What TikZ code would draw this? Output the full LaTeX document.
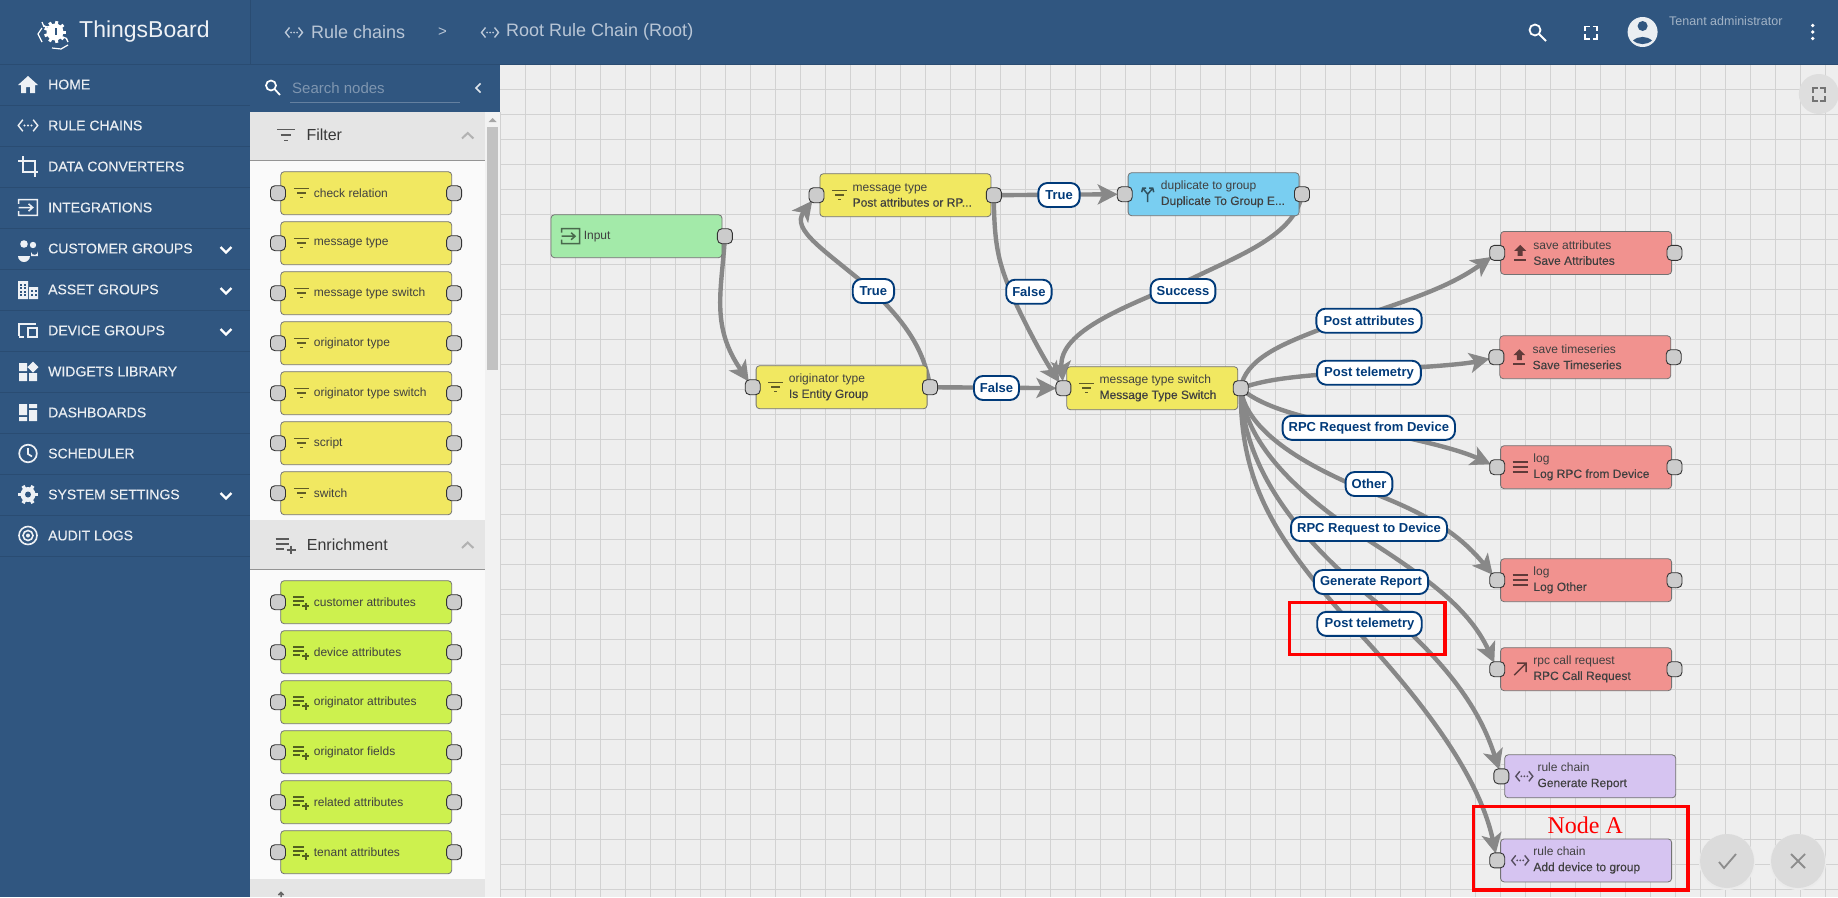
\documentclass[tikz,border=0pt]{standalone}
\usepackage{fontspec}
\setmainfont{Liberation Sans}
\newfontfamily\medf[FakeBold=0.25]{Liberation Sans}
\newfontfamily\redserif{Liberation Serif}
\usetikzlibrary{arrows.meta}
\pgfdeclarelayer{bglayer}
\pgfdeclarelayer{edgelayer}
\pgfsetlayers{bglayer,edgelayer,main}
\definecolor{tbblue}{HTML}{305680}
\definecolor{tbdark}{HTML}{2A4C72}
\definecolor{tbtext}{HTML}{B9C6D6}
\definecolor{canvasbg}{HTML}{EEEEEE}
\definecolor{gridc}{HTML}{D2D2D2}
\definecolor{cfilter}{HTML}{F1E861}
\definecolor{cenrich}{HTML}{CDF14E}
\definecolor{caction}{HTML}{F1928F}
\definecolor{cinput}{HTML}{A3EAA9}
\definecolor{cflow}{HTML}{D6C4F1}
\definecolor{ctrans}{HTML}{79CEF1}
\definecolor{edgec}{HTML}{888888}
\definecolor{labc}{HTML}{003A79}
\tikzset{
  x=1pt,y=-1pt,
  flowbox/.style={draw=black!55,line width=.8pt,rounded corners=3.5pt,minimum width=171pt,minimum height=43pt,inner sep=0pt,anchor=north west},
  port/.style={draw=black!80,line width=.9pt,fill=black!20,rounded corners=4.5pt,minimum width=15pt,minimum height=15pt,inner sep=0pt},
  flowtext/.style={anchor=west,align=left,inner sep=0pt,text=black!75,font=\fontsize{12}{15.3}\selectfont},
  paltext/.style={anchor=west,inner sep=0pt,text=black!75,font=\fontsize{12}{15}\selectfont},
  pill/.style={draw=labc,line width=1.9pt,fill=white,rounded corners=9pt,minimum height=24pt,inner sep=0pt,text=labc,font=\fontsize{13}{15}\selectfont\bfseries},
  edge/.style={draw=edgec,line width=4.4pt,-{Stealth[length=20pt,width=20pt,inset=5pt]},shorten >=7pt},
  menutext/.style={anchor=west,inner sep=0pt,text=white!90!tbblue,font=\fontsize{14}{16}\medf},
  headtext/.style={anchor=west,inner sep=0pt,text=tbtext,font=\fontsize{18}{20}\selectfont},
  sechead/.style={anchor=west,inner sep=0pt,text=black!78,font=\fontsize{16}{18}\selectfont},
  redbox/.style={draw=red,line width=3.6pt,fill=none},
  ico/.style={line width=1.5pt,line cap=butt},
}
% small icons, drawn about the origin of the current scope
\newcommand\icfilter{\draw[ico,black,opacity=.6] (-7.5,-4.5)--(7.5,-4.5) (-4.5,0)--(4.5,0) (-1.5,4.5)--(1.5,4.5);}
\newcommand\icplus{\draw[ico,black,opacity=.6] (-8,-5)--(3,-5) (-8,-1)--(3,-1) (-8,3)--(-1,3) (1,4)--(8,4) (4.5,.5)--(4.5,7.5);}
\newcommand\iclog{\draw[ico,black,opacity=.6] (-7.5,-5)--(7.5,-5) (-7.5,0)--(7.5,0) (-7.5,5)--(7.5,5);}
\newcommand\icup{\fill[black,opacity=.6] (-2.5,3)--(-2.5,-2)--(-6,-2)--(0,-8)--(6,-2)--(2.5,-2)--(2.5,3)--cycle;\draw[ico,black,opacity=.6] (-6,7)--(6,7);}
\newcommand\iccall{\draw[ico,black,opacity=.6] (-6,6)--(6,-6) (-3,-6)--(6,-6)--(6,3);}
\newcommand\icchain[1]{\draw[#1,line width=1.4pt] (-4.5,-5)--(-8.5,0)--(-4.5,5) (4.5,-5)--(8.5,0)--(4.5,5);\fill[#1] (-3,0) circle (1) (0,0) circle (1) (3,0) circle (1);}
\newcommand\iccross{\draw[ico,black,opacity=.6] (0,8)--(0,0)--(-5,-6) (0,0)--(5,-6) (-6,-2)--(-5,-6)--(-1.5,-6) (1.5,-6)--(5,-6)--(6,-2);}
\newcommand\icinput[1]{\draw[#1,line width=1.5pt] (-9,-3.5)--(-9,-7.5)--(9,-7.5)--(9,7.5)--(-9,7.5)--(-9,3.5) (-9,0)--(4,0) (.5,-3.5)--(4.5,0)--(.5,3.5);}
% a node of the chain: name, x, y, fill, icon, first line, second line
\newcommand\flownode[7]{%
  \node[flowbox,fill=#4] (#1) at (#2,#3) {};
  \node[port] (#1-l) at ([xshift=-3pt]#1.west) {};
  \begin{scope}[shift={([xshift=20pt]#1.west)}]#5\end{scope}
  \node[flowtext] (#1-t) at ([xshift=33pt]#1.west) {#6\\{\medf #7}};
}
\newcommand\rport[1]{\node[port] (#1-r) at ([xshift=2.5pt]#1.east) {};}
% a node of the palette: name, y, fill, icon, text
\newcommand\palnode[5]{%
  \node[flowbox,fill=#3] (#1) at (280.3,#2) {};
  \node[port] (#1-l) at ([xshift=-2.3pt]#1.west) {};
  \node[port] (#1-r) at ([xshift=2pt]#1.east) {};
  \begin{scope}[shift={([xshift=21pt]#1.west)}]#4\end{scope}
  \node[paltext] (#1-t) at ([xshift=33.4pt]#1.west) {#5};
}
\begin{document}
\begin{tikzpicture}
\useasboundingbox (0,0) rectangle (1838,897);
\begin{pgfonlayer}{bglayer}
  \fill[canvasbg] (0,0) rectangle (1838,897);
  \foreach \gx in {0,...,53} {\draw[gridc,line width=1pt] ({525.6+25*\gx},64)--({525.6+25*\gx},897);}
  \foreach \gy in {1,...,33} {\draw[gridc,line width=1pt] (500,{64.3+25*\gy})--(1838,{64.3+25*\gy});}
  % top bar, side bar, palette
  \fill[tbblue] (0,0) rectangle (1838,64);
  \fill[tbblue] (0,64) rectangle (250,897);
  \fill[tbblue] (250,64) rectangle (500,112);
  \fill[black!2] (250,112) rectangle (485,897);
  \fill[black!5] (485,112) rectangle (500,897);
  \fill[black!24] (487,127) rectangle (498,370);
  \fill[black!35] (488.5,122)--(496.5,122)--(492.5,118)--cycle;
  \draw[black!18,line width=1pt] (500.5,112)--(500.5,897);
  \draw[tbdark,line width=1pt] (0,64.5)--(1838,64.5) (250,0)--(250,64);
  \foreach \ly in {105,146,187,228,269,310,351,392,433,474,515,556} {\draw[tbdark,line width=1pt] (0,\ly)--(250,\ly);}
  \fill[black!10] (250,112) rectangle (485,160);
  \draw[black!42,line width=1pt] (250,160)--(485,160);
  \fill[black!10] (250,520) rectangle (485,569);
  \draw[black!42,line width=1pt] (250,569)--(485,569);
  \fill[black!10] (250,879) rectangle (485,897);
\end{pgfonlayer}

% top bar
\begin{scope}[shift={(55,32)}]
  \fill[white] (0,0) circle (8.5);
  \foreach \a in {0,40,...,320} {\draw[white,line width=3pt] (\a:6)--(\a:11);}
  \draw[white,line width=1.2pt] (-11,-5)--(-13,-10) arc (180:60:5) (11,6)--(13,10) arc (0:-120:5);
  \draw[white,line width=1.2pt] (-3,16)--(6,17)--(13,13) (-13,-4)--(-17,2)--(-13,10);
  \fill[tbblue] (-.5,-4) rectangle (2,3);
\end{scope}
\node[anchor=west,inner sep=0pt,text=white!92!tbblue,font=\fontsize{23}{25}\selectfont] (tblogo) at (79,31.5) {ThingsBoard};
\begin{scope}[shift={(294,32.5)}]\icchain{tbtext}\end{scope}
\node[headtext] (hchains) at (311,32) {Rule chains};
\node[headtext,font=\fontsize{15}{17}\selectfont] (hsep) at (438,32) {>};
\begin{scope}[shift={(490,32.5)}]\icchain{tbtext}\end{scope}
\node[headtext] (hroot) at (506,32) {Root Rule Chain (Root)};
\draw[white,line width=1.8pt] (1535,30) circle (5.5) (1539,34)--(1546,41);
\draw[white,line width=1.8pt] (1585,31)--(1585,26.5)--(1590,26.5) (1592.5,26.5)--(1597,26.5)--(1597,31) (1597,34)--(1597,39)--(1592.5,39) (1590,39)--(1585,39)--(1585,34);
\fill[white!90!tbblue] (1642.6,32) circle (15);
\fill[tbblue] (1642.6,26) circle (5) (1633,40.5) to[bend left=40] (1652,40.5) to[bend left=40] cycle;
\node[anchor=west,inner sep=0pt,text=white!55!tbblue,font=\fontsize{12.5}{14}\selectfont] (htenant) at (1669,21.5) {Tenant administrator};
\fill[white] (1812.7,25.5) circle (1.9) (1812.7,32) circle (1.9) (1812.7,38.5) circle (1.9);

% side menu
\foreach \ty/\tn/\tt in {84.5/mhome/HOME,125.5/mrule/RULE CHAINS,166.5/mconv/DATA CONVERTERS,207.5/mint/INTEGRATIONS,248.5/mcust/CUSTOMER GROUPS,289.5/masset/ASSET GROUPS,330.5/mdev/DEVICE GROUPS,371.5/mwid/WIDGETS LIBRARY,412.5/mdash/DASHBOARDS,453.5/msch/SCHEDULER,494.5/mset/SYSTEM SETTINGS,535.5/maud/AUDIT LOGS}
  {\node[menutext] (\tn) at (48,\ty) {\tt};}
\foreach \cy in {249.5,290.5,331.5,495.5} {\draw[white,line width=2.2pt] (220.5,\cy-2.5)--(226,\cy+3)--(231.5,\cy-2.5);}
\fill[white!92!tbblue] (28,76)--(38,85)--(35,85)--(35,93)--(30,93)--(30,87)--(26,87)--(26,93)--(21,93)--(21,85)--(18,85)--cycle;
\begin{scope}[shift={(28,125.5)},scale=1.15]\icchain{white!92!tbblue}\end{scope}
\draw[white!92!tbblue,line width=1.6pt] (18,161)--(35,161)--(35,177) (23,156)--(23,172)--(38,172);
\begin{scope}[shift={(28,207.5)},scale=1.05]\icinput{white!92!tbblue}\end{scope}
\fill[white!92!tbblue] (24,244) circle (3.8) (33,245) circle (3.2) (18,256) arc (180:0:6) -- cycle (31,256) -- (31,252) arc (170:0:3.5) -- (38,256) -- cycle;
\fill[white!92!tbblue] (18,281) rectangle (28,299) (29,287) rectangle (38,299);
\foreach \dx in {20,23.5} \foreach \dy in {283.5,287,290.5,294} {\fill[tbblue] (\dx,\dy) rectangle +(2,2);}
\foreach \dx in {31,34.5} \foreach \dy in {290,294} {\fill[tbblue] (\dx,\dy) rectangle +(2,2);}
\draw[white!92!tbblue,line width=1.6pt] (19,336)--(19,324)--(36,324) (24,337)--(19,337) (28,328) rectangle (37,337);
\fill[white!92!tbblue] (19,363) rectangle (27,371) (19,373) rectangle (27,381) (29,373) rectangle (37,381) (33,361.5)--(38.5,367)--(33,372.5)--(27.5,367)--cycle;
\fill[white!92!tbblue] (19,404) rectangle (27,415) (19,417) rectangle (27,421) (29,404) rectangle (37,408) (29,410) rectangle (37,421);
\draw[white!92!tbblue,line width=1.7pt] (28,453.5) circle (8.8) (28,448)--(28,454)--(32,456.5);
\fill[white!92!tbblue] (28,494.5) circle (7.5);
\foreach \a in {0,60,...,300} {\draw[white!92!tbblue,line width=3.4pt] (28,494.5) ++(\a:6)--++(\a:4);}
\fill[tbblue] (28,494.5) circle (3);
\draw[white!92!tbblue,line width=1.6pt] (28,535.5) circle (9) (28,535.5) circle (5);
\fill[white!92!tbblue] (28,535.5) circle (2);

% palette head
\draw[white,line width=1.7pt] (271,85.5) circle (5) (275,89.5)--(280,95);
\node[anchor=west,inner sep=0pt,text=white!38!tbblue,font=\fontsize{15}{17}\selectfont] (psearch) at (292,88) {Search nodes};
\draw[white!25!tbblue,line width=1pt] (290,102.5)--(460,102.5);
\draw[white!85!tbblue,line width=1.6pt] (480.5,83.5)--(476,88)--(480.5,92.5);
\begin{scope}[shift={(286,135)},scale=1.2]\icfilter\end{scope}
\node[sechead] (sfilter) at (306.3,135) {Filter};
\draw[black!30,line width=2pt] (462,138.5)--(467.7,133)--(473.4,138.5);
\begin{scope}[shift={(285.5,545)},scale=1.25]\icplus\end{scope}
\node[sechead] (senrich) at (306.7,544.5) {Enrichment};
\draw[black!30,line width=2pt] (462,548)--(467.7,542.5)--(473.4,548);
\draw[black!60,line width=1.5pt] (281,897)--(281,893) (278.5,895)--(281,892.5)--(283.5,895);

\palnode{pa}{171.3}{cfilter}{\icfilter}{check relation}
\palnode{pb}{221.3}{cfilter}{\icfilter}{message type}
\palnode{pc}{271.3}{cfilter}{\icfilter}{message type switch}
\palnode{pd}{321.3}{cfilter}{\icfilter}{originator type}
\palnode{pe}{371.3}{cfilter}{\icfilter}{originator type switch}
\palnode{pf}{421.3}{cfilter}{\icfilter}{script}
\palnode{pg}{471.3}{cfilter}{\icfilter}{switch}
\palnode{qa}{580.3}{cenrich}{\icplus}{customer attributes}
\palnode{qb}{630.3}{cenrich}{\icplus}{device attributes}
\palnode{qc}{680.3}{cenrich}{\icplus}{originator attributes}
\palnode{qd}{730.3}{cenrich}{\icplus}{originator fields}
\palnode{qe}{780.3}{cenrich}{\icplus}{related attributes}
\palnode{qf}{830.3}{cenrich}{\icplus}{tenant attributes}

% chain nodes
\node[flowbox,fill=cinput] (nin) at (550.6,214.3) {};
\node[port] (nin-r) at ([xshift=2.5pt]nin.east) {};
\begin{scope}[shift={([xshift=20pt]nin.west)}]\icinput{black!55!cinput}\end{scope}
\node[flowtext] (nin-t) at ([xshift=33pt]nin.west) {Input};
\flownode{nmt}{819.5}{173.3}{cfilter}{\icfilter}{message type}{Post attributes or RP...}\rport{nmt}
\flownode{ndup}{1127.7}{172.3}{ctrans}{\iccross}{duplicate to group}{Duplicate To Group E...}\rport{ndup}
\flownode{nor}{755.7}{365.3}{cfilter}{\icfilter}{originator type}{Is Entity Group}\rport{nor}
\flownode{nsw}{1066.4}{366.3}{cfilter}{\icfilter}{message type switch}{Message Type Switch}\rport{nsw}
\flownode{nsa}{1500.2}{231}{caction}{\icup}{save attributes}{Save Attributes}\rport{nsa}
\flownode{nst}{1499.4}{335.3}{caction}{\icup}{save timeseries}{Save Timeseries}\rport{nst}
\flownode{nlr}{1500.2}{445.3}{caction}{\iclog}{log}{Log RPC from Device}\rport{nlr}
\flownode{nlo}{1500.2}{558.3}{caction}{\iclog}{log}{Log Other}\rport{nlo}
\flownode{nrc}{1500.2}{647.3}{caction}{\iccall}{rpc call request}{RPC Call Request}\rport{nrc}
\flownode{ngr}{1504.3}{754.4}{cflow}{\icchain{black!60!cflow}}{rule chain}{Generate Report}
\flownode{nad}{1500.2}{838.5}{cflow}{\icchain{black!60!cflow}}{rule chain}{Add device to group}

% connectors
\begin{pgfonlayer}{edgelayer}
\draw[edge] (nin-r.center) .. controls (722,290) and (710,325) .. (nor-l.center);
\draw[edge] (nor-r.center) .. controls (924,345) and (900,318) .. (873,291) .. controls (825,250) and (790,230) .. (nmt-l.center);
\draw[edge] (nmt-r.center) -- (ndup-l.center);
\draw[edge] (nmt-r.center) .. controls (994,250) and (1000,265) .. (1012,295) .. controls (1030,335) and (1048,365) .. (nsw-l.center);
\draw[edge] (nor-r.center) -- (nsw-l.center);
\draw[edge] (ndup-r.center) .. controls (1295,235) and (1240,255) .. (1193,278) .. controls (1130,305) and (1058,330) .. (nsw-l.center);
\draw[edge] (nsw-r.center) .. controls (1245,360) and (1280,345) .. (1316,331) .. controls (1400,303) and (1445,290) .. (nsa-l.center);
\draw[edge] (nsw-r.center) .. controls (1270,378) and (1300,376) .. (1369,371) .. controls (1420,367) and (1460,365) .. (nst-l.center);
\draw[edge] (nsw-r.center) .. controls (1262,408) and (1310,420) .. (1369,430) .. controls (1420,440) and (1460,450) .. (nlr-l.center);
\draw[edge] (nsw-r.center) .. controls (1245,425) and (1290,460) .. (1370,492) .. controls (1430,515) and (1460,535) .. (nlo-l.center);
\draw[edge] (nsw-r.center) .. controls (1245,440) and (1290,490) .. (1371,542) .. controls (1430,580) and (1470,610) .. (nrc-l.center);
\draw[edge] (nsw-r.center) .. controls (1243,470) and (1300,540) .. (1375,601) .. controls (1450,665) and (1480,710) .. (ngr-l.center);
\draw[edge] (nsw-r.center) .. controls (1240,490) and (1280,545) .. (1362,636) .. controls (1430,710) and (1480,780) .. (nad-l.center);
\end{pgfonlayer}

% connector labels
\node[pill,minimum width=41.3pt] (l1) at (1059,195) {True};
\node[pill,minimum width=41.3pt] (l2) at (873.4,291) {True};
\node[pill,minimum width=45.4pt] (l3) at (1028.9,291.7) {False};
\node[pill,minimum width=64.8pt] (l4) at (1183,291) {Success};
\node[pill,minimum width=45pt] (l5) at (996.5,388) {False};
\node[pill,minimum width=105.3pt] (l6) at (1369,320.7) {Post attributes};
\node[pill,minimum width=103.7pt] (l7) at (1369,372.7) {Post telemetry};
\node[pill,minimum width=172.4pt] (l8) at (1368.8,427.8) {RPC Request from Device};
\node[pill,minimum width=46.8pt] (l9) at (1369,484) {Other};
\node[pill,minimum width=155.9pt] (l10) at (1369,529) {RPC Request to Device};
\node[pill,minimum width=114.3pt] (l11) at (1371,582) {Generate Report};
\node[pill,minimum width=104.5pt] (l12) at (1369.5,623.9) {Post telemetry};

% floating buttons
\fill[black!13] (1818.8,94) circle (20);
\draw[black!55,line width=1.6pt] (1813,93)--(1813,88)--(1818,88) (1820,88)--(1825,88)--(1825,93) (1825,96)--(1825,101)--(1820,101) (1818,101)--(1813,101)--(1813,96);
\fill[black!8] (1727,862) circle (28);
\fill[black!14] (1727,861) circle (27);
\draw[black!45,line width=1.8pt] (1719,862)--(1724,868)--(1736,854);
\fill[black!8] (1798,862) circle (28);
\fill[black!14] (1798,861) circle (27);
\draw[black!45,line width=1.8pt] (1791,854)--(1805,868) (1805,854)--(1791,868);

% red marks
\draw[redbox] (1289.5,602.3) rectangle (1445,654.6);
\draw[redbox] (1473.4,806.4) rectangle (1688.2,889.8);
\node[inner sep=0pt,text=red,font=\fontsize{24}{26}\redserif] (nodeA) at (1585.3,825) {Node A};
\end{tikzpicture}
\end{document}
